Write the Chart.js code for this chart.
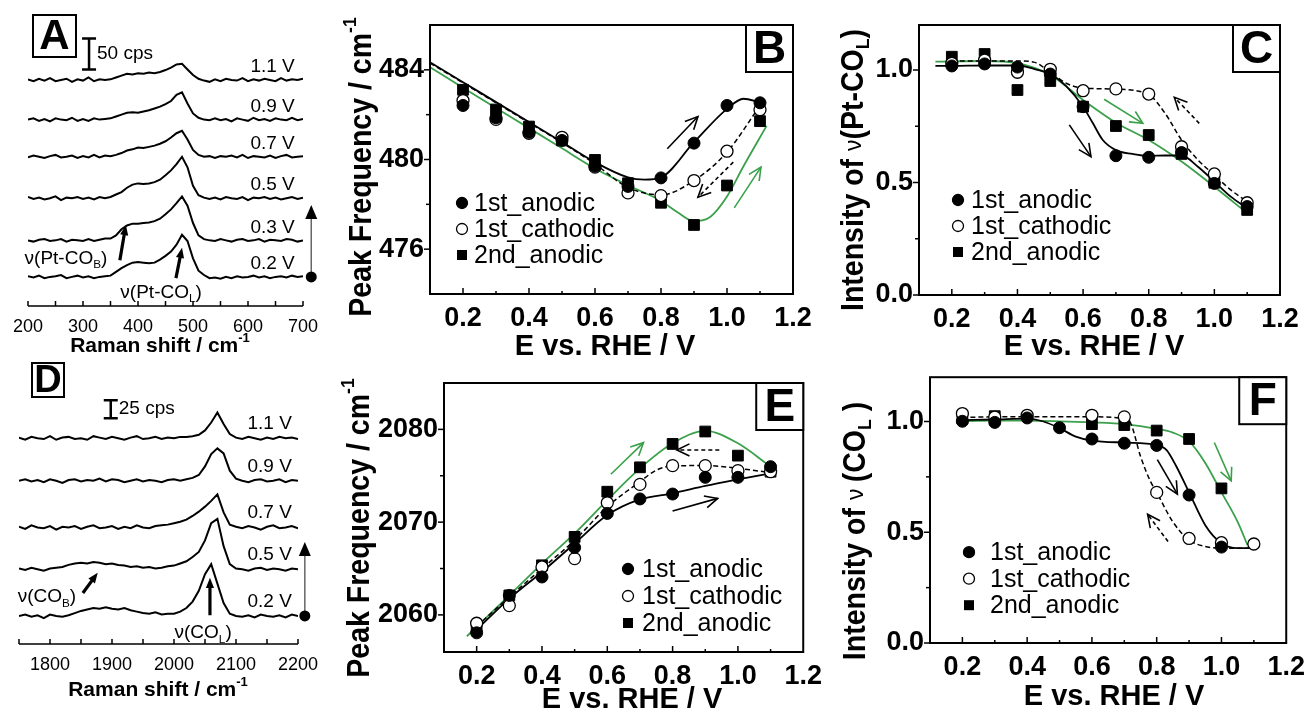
<!DOCTYPE html>
<html>
<head>
<meta charset="utf-8">
<script src="https://cdn.jsdelivr.net/npm/chart.js@4.4.0/dist/chart.umd.min.js"></script>
<style>
  body { margin: 0; background: #fff; width: 1313px; height: 711px; position: relative; overflow: hidden; }
  canvas { position: absolute; }
</style>
</head>
<body>
<canvas id="panelA" width="330" height="360" style="left:0;top:0"></canvas>
<canvas id="panelD" width="330" height="356" style="left:0;top:355px"></canvas>
<canvas id="panelB" width="490" height="360" style="left:330px;top:0"></canvas>
<canvas id="panelE" width="500" height="356" style="left:330px;top:355px"></canvas>
<canvas id="panelC" width="493" height="360" style="left:820px;top:0"></canvas>
<canvas id="panelF" width="493" height="356" style="left:820px;top:355px"></canvas>
<script>
// ---------- Panel A: Raman spectra, Pt-CO region (cps above each baseline) ----------
const shiftA = [200,210,220,230,240,250,260,270,280,290,300,310,320,330,340,350,360,370,380,390,
                400,410,420,430,440,450,460,470,480,490,500,510,520,530,540,550,560,570,580,590,
                600,610,620,630,640,650,660,670,680,690,700];
const ramanA_11 = [1,-2,2,-1,3,-2,0,2,-3,1,-1,4,-2,1,0, 1,4,7,10,9,11,10,12,11,13,16,20,25,26,17,8,2,-1,-3, 1,-2,2,0,-1,3,-2,1,-1,2,0,-2,3,-1,1,0,2];
const ramanA_09 = [0,2,-2,1,-3,2,0,-1,3,-2,1,-2,2,0,1, 2,5,8,11,12,11,13,15,18,21,25,30,40,44,26,10,3,0,-1, 2,-1,1,-3,2,0,-2,3,-1,1,-2,2,0,-1,3,-1,1];
const ramanA_07 = [-1,2,0,-2,1,3,-1,0,2,-2,1,-1,3,-1,2, 1,3,6,10,12,15,14,16,18,21,25,31,38,42,28,11,3,0,1, -2,1,0,2,-1,3,-2,1,0,-1,2,-2,1,3,-1,0,1];
const ramanA_05 = [2,-1,1,-2,0,3,-3,1,0,2,-1,1,-2,2,0, 2,6,10,17,22,24,23,24,26,30,37,45,55,67,50,20,5,1,-1, 1,-2,2,0,-1,2,-3,1,0,2,-1,1,-2,0,2,-1,1];
const ramanA_03 = [0,-2,1,2,-1,0,2,-2,1,0,-1,2,-1,1,3, 3,8,18,24,27,27,28,29,31,35,42,50,60,71,56,28,8,2,0, -1,2,0,-2,1,2,-1,0,2,-2,1,0,-1,2,1,-2,0];
const ramanA_02 = [1,-1,2,-2,0,1,3,-2,0,2,-1,1,-2,0,1, 2,8,14,19,23,24,23,22,23,28,34,41,52,68,58,30,10,3,-2, -1,-3,0,-2,1,-1,0,2,-1,1,-2,0,1,-1,2,0,1];
const offsetsA = [365, 301, 241, 174, 106, 47];
const potentialLabelsA = ['1.1 V', '0.9 V', '0.7 V', '0.5 V', '0.3 V', '0.2 V'];
const tickLabelsA = [200, 300, 400, 500, 600, 700];

// ---------- Panel D: Raman spectra, CO stretch region ----------
const shiftD = [1750,1760,1770,1780,1790,1800,1810,1820,1830,1840,1850,1860,1870,1880,1890,1900,
                1910,1920,1930,1940,1950,1960,1970,1980,1990,2000,2010,2020,2030,2040,2050,2060,
                2070,2080,2090,2100,2110,2120,2130,2140,2150,2160,2170,2180,2190,2200];
const ramanD_11 = [1,-2,2,0,-1,3,-2,1,2,-1,0,-2,3,1,-1,2,0,-2,1,3,-1,0,2,-1,1,0,2, 2,3,5,11,22,36,20,6,1, -1,2,0,-2,1,-1,2,0,1,-1];
const ramanD_09 = [0,2,-1,1,-2,2,0,-3,1,2,-1,1,0,3,-1,2,1,-2,0,2,-1,1,0,-2,1,2,0, 2,4,8,20,37,45,38,14,3, 0,-2,1,2,-1,0,2,-2,1,0];
const ramanD_07 = [1,-2,3,0,-1,2,-3,1,0,2,-2,1,3,-1,0,2,-2,1,-1,3,0,-1,2,3,4,6,8, 11,16,22,29,37,46,21,4,1, -1,2,0,-3,1,3,-1,0,2,-1];
const ramanD_05 = [1,-1,2,0,-2,1,2,3,6,8,9,8,10,9,7,8,6,5,3,4,2,3,1,2,4,5,8, 11,17,24,40,64,70,32,7,1, 0,-2,1,2,-1,1,0,-2,1,0];
const ramanD_02 = [0,2,-1,1,-3,2,0,-1,1,4,7,9,11,10,12,10,9,11,8,6,4,3,5,2,3,3,6, 11,20,35,58,72,45,18,3,0, -1,1,-2,2,0,-1,1,-2,2,0];
const offsetsD = [286, 227, 162, 104, 39];
const potentialLabelsD = ['1.1 V', '0.9 V', '0.7 V', '0.5 V', '0.2 V'];
const tickLabelsD = [1800, 1900, 2000, 2100, 2200];

// ---------- Panels B, C, E, F: peak parameters vs potential ----------
const potentials = [0.2, 0.3, 0.4, 0.5, 0.6, 0.7, 0.8, 0.9, 1.0, 1.1];
const potentialTicks = [0.2, 0.4, 0.6, 0.8, 1.0, 1.2];

const freqPtCO_anodic1   = [482.41, 481.86, 481.22, 480.85, 479.70, 478.80, 479.18, 480.73, 482.41, 482.53];
const freqPtCO_cathodic1 = [482.63, 481.79, 481.17, 480.99, 479.66, 478.51, 478.39, 479.06, 480.37, 482.22];
const freqPtCO_anodic2   = [483.11, 482.23, 481.47, 480.85, 479.98, 478.94, 478.07, 477.08, 478.84, 481.71];
const fitB_solid_x = [0.1, 0.2, 0.3, 0.4, 0.5, 0.6, 0.7, 0.75, 0.8, 0.9, 1.0, 1.05, 1.1];
const fitB_solid_y = [484.34, 483.45, 482.56, 481.67, 480.78, 479.88, 479.2, 479.1, 479.2, 480.77, 482.26, 482.71, 482.55];
const fitB_dash_x = [0.1, 0.2, 0.3, 0.4, 0.5, 0.6, 0.7, 0.8, 0.9, 1.0, 1.1];
const fitB_dash_y = [484.3, 483.42, 482.53, 481.64, 480.75, 479.8, 478.75, 478.42, 479.06, 480.33, 482.4];
const fitB_green_x = [0.1, 0.2, 0.3, 0.4, 0.5, 0.6, 0.7, 0.8, 0.85, 0.9, 0.95, 1.0, 1.05, 1.12];
const fitB_green_y = [484.12, 483.2, 482.3, 481.4, 480.5, 479.6, 478.85, 478.15, 477.65, 477.25, 477.45, 478.35, 479.7, 481.5];

const intPtCO_anodic1   = [1.018, 1.027, 1.013, 0.982, 0.837, 0.619, 0.612, 0.633, 0.496, 0.393];
const intPtCO_cathodic1 = [1.03, 1.044, 0.99, 1.003, 0.908, 0.916, 0.893, 0.659, 0.538, 0.41];
const intPtCO_anodic2   = [1.059, 1.071, 0.911, 0.951, 0.837, 0.751, 0.711, 0.627, 0.499, 0.378];
const fitC_solid_x = [0.15, 0.2, 0.3, 0.4, 0.45, 0.5, 0.55, 0.6, 0.63, 0.66, 0.7, 0.75, 0.8, 0.85, 0.9, 0.95, 1.0, 1.05, 1.1];
const fitC_solid_y = [1.018, 1.018, 1.02, 1.02, 1.005, 0.982, 0.926, 0.837, 0.763, 0.689, 0.644, 0.627, 0.618, 0.62, 0.62, 0.57, 0.504, 0.437, 0.385];
const fitC_dash_x = [0.2, 0.3, 0.4, 0.45, 0.5, 0.55, 0.6, 0.7, 0.8, 0.85, 0.9, 0.95, 1.0, 1.05, 1.1];
const fitC_dash_y = [1.04, 1.04, 1.04, 1.035, 0.99, 0.94, 0.92, 0.915, 0.89, 0.807, 0.689, 0.6, 0.533, 0.467, 0.415];
const fitC_green_x = [0.15, 0.3, 0.4, 0.5, 0.6, 0.7, 0.8, 0.9, 1.0, 1.1];
const fitC_green_y = [1.037, 1.04, 1.03, 0.978, 0.867, 0.766, 0.689, 0.593, 0.481, 0.363];

const freqCO_anodic1   = [2058.07, 2062.1, 2064.09, 2067.26, 2070.94, 2072.5, 2073.03, 2074.83, 2074.83, 2075.98];
const freqCO_cathodic1 = [2059.1, 2061.0, 2065.17, 2066.07, 2072.09, 2074.07, 2076.09, 2076.09, 2075.55, 2075.44];
const freqCO_anodic2   = [2058.7, 2062.1, 2065.35, 2068.41, 2073.28, 2075.91, 2078.43, 2079.77, 2077.17, 2075.44];
const fitE_solid_x = [0.2, 0.3, 0.4, 0.5, 0.6, 0.7, 0.8, 0.9, 1.0, 1.1];
const fitE_solid_y = [2058.4, 2061.75, 2064.63, 2067.7, 2070.76, 2072.45, 2073.1, 2073.9, 2074.6, 2075.26];
const fitE_dash_x = [0.2, 0.3, 0.4, 0.5, 0.6, 0.7, 0.75, 0.8, 0.9, 1.0, 1.1];
const fitE_dash_y = [2058.76, 2061.93, 2065.0, 2068.05, 2071.66, 2074.36, 2075.6, 2076.05, 2076.1, 2075.8, 2075.33];
const fitE_green_x = [0.17, 0.3, 0.4, 0.5, 0.6, 0.7, 0.8, 0.9, 1.0, 1.1, 1.12];
const fitE_green_y = [2057.7, 2062.1, 2065.53, 2068.78, 2072.38, 2075.8, 2078.5, 2079.84, 2078.5, 2075.98, 2075.5];

const intCO_anodic1   = [1.001, 0.996, 1.016, 0.972, 0.921, 0.902, 0.892, 0.668, 0.433, null];
const intCO_cathodic1 = [1.036, 1.02, 1.028, null, 1.028, 1.021, 0.68, 0.472, 0.453, 0.447];
const intCO_anodic2   = [1.013, 1.024, null, null, 0.988, 0.984, 0.959, 0.921, 0.698, null];
const fitF_solid_x = [0.2, 0.3, 0.4, 0.45, 0.5, 0.55, 0.6, 0.7, 0.8, 0.83, 0.86, 0.9, 0.95, 1.0, 1.05, 1.1];
const fitF_solid_y = [1.006, 1.009, 1.013, 1.0, 0.97, 0.932, 0.914, 0.905, 0.895, 0.872, 0.799, 0.68, 0.532, 0.45, 0.428, 0.428];
const fitF_dash_x = [0.2, 0.3, 0.4, 0.5, 0.6, 0.7, 0.72, 0.75, 0.78, 0.8, 0.85, 0.9, 0.95, 1.0, 1.1];
const fitF_dash_y = [1.018, 1.021, 1.021, 1.021, 1.021, 1.013, 0.991, 0.843, 0.732, 0.68, 0.547, 0.465, 0.436, 0.428, 0.428];
const fitF_green_x = [0.18, 0.3, 0.4, 0.5, 0.6, 0.7, 0.8, 0.85, 0.9, 0.95, 1.0, 1.05, 1.08];
const fitF_green_y = [1.001, 1.004, 1.004, 1.001, 0.996, 0.988, 0.967, 0.95, 0.91, 0.813, 0.68, 0.547, 0.443];

const seriesNames = ['1st_anodic', '1st_cathodic', '2nd_anodic'];

// ---------- shared drawing helpers ----------
const SANS = '"Liberation Sans", Arial, Helvetica, sans-serif';
const GREEN = '#3aa14a';

// draws text made of parts (bold / sub / sup) centred on cx, cy;
// squeeze < 1 narrows the text along its reading direction
function drawRich(ctx, parts, cx, cy, size, rotated, squeeze) {
  ctx.save();
  ctx.translate(cx, cy);
  if (rotated) ctx.rotate(-Math.PI / 2);
  if (squeeze) ctx.scale(squeeze, 1);
  const fontOf = p => {
    const s = size * (p.sub || p.sup ? 0.62 : (p.scale || 1));
    return (p.w || 'normal') + ' ' + s + 'px ' + SANS;
  };
  let total = 0;
  parts.forEach(p => { ctx.font = fontOf(p); total += ctx.measureText(p.t).width; });
  let x = -total / 2;
  ctx.textAlign = 'left';
  ctx.textBaseline = 'middle';
  ctx.fillStyle = '#000';
  parts.forEach(p => {
    ctx.font = fontOf(p);
    const dy = p.sub ? size * 0.32 : p.sup ? -size * 0.36 : 0;
    ctx.fillText(p.t, x, dy);
    x += ctx.measureText(p.t).width;
  });
  ctx.restore();
}

function openArrow(ctx, x1, y1, x2, y2, color, dashed) {
  ctx.save();
  ctx.strokeStyle = color;
  ctx.lineWidth = 1.6;
  if (dashed) ctx.setLineDash([4, 3]);
  ctx.beginPath(); ctx.moveTo(x1, y1); ctx.lineTo(x2, y2); ctx.stroke();
  ctx.setLineDash([]);
  const ang = Math.atan2(y2 - y1, x2 - x1), L = 14, s = 0.45;
  ctx.beginPath();
  ctx.moveTo(x2 - L * Math.cos(ang - s), y2 - L * Math.sin(ang - s));
  ctx.lineTo(x2, y2);
  ctx.lineTo(x2 - L * Math.cos(ang + s), y2 - L * Math.sin(ang + s));
  ctx.stroke();
  ctx.restore();
}

function solidArrow(ctx, x1, y1, x2, y2, width, head, color) {
  const ang = Math.atan2(y2 - y1, x2 - x1);
  ctx.save();
  ctx.strokeStyle = color; ctx.fillStyle = color; ctx.lineWidth = width;
  ctx.beginPath(); ctx.moveTo(x1, y1);
  ctx.lineTo(x2 - head * 0.8 * Math.cos(ang), y2 - head * 0.8 * Math.sin(ang)); ctx.stroke();
  ctx.beginPath();
  ctx.moveTo(x2, y2);
  ctx.lineTo(x2 - head * Math.cos(ang - 0.38), y2 - head * Math.sin(ang - 0.38));
  ctx.lineTo(x2 - head * Math.cos(ang + 0.38), y2 - head * Math.sin(ang + 0.38));
  ctx.closePath(); ctx.fill();
  ctx.restore();
}

function drawMarker(ctx, kind, x, y, r) {
  ctx.beginPath();
  if (kind === 'square') {
    ctx.rect(x - r, y - r, 2 * r, 2 * r);
    ctx.fillStyle = '#000'; ctx.fill();
  } else {
    ctx.arc(x, y, r, 0, 2 * Math.PI);
    ctx.fillStyle = kind === 'open' ? '#fff' : '#000';
    ctx.fill();
    ctx.lineWidth = 1.3; ctx.strokeStyle = '#000'; ctx.stroke();
  }
}

function letterBox(ctx, letter, x, y, w, h, size) {
  ctx.save();
  ctx.fillStyle = '#fff'; ctx.fillRect(x, y, w, h);
  ctx.strokeStyle = '#000'; ctx.lineWidth = 2; ctx.strokeRect(x, y, w, h);
  ctx.fillStyle = '#000'; ctx.font = 'bold ' + size + 'px ' + SANS;
  ctx.textAlign = 'center'; ctx.textBaseline = 'middle';
  ctx.fillText(letter, x + w / 2, y + h / 2 + size * 0.04);
  ctx.restore();
}

const titleRaman = [{ t: 'Raman shift / cm', w: 'bold' }, { t: '-1', w: 'bold', sup: true }];
const titleE = [{ t: 'E vs. RHE / V', w: 'bold' }];
const titlePeak = [{ t: 'Peak Frequency / cm', w: 'bold' }, { t: '-1', w: 'bold', sup: true }];
const titleIntPtCO = [{ t: 'Intensity of ', w: 'bold' }, { t: 'ν', scale: 0.8 }, { t: '(Pt-CO', w: 'bold' }, { t: 'L', w: 'bold', sub: true }, { t: ')', w: 'bold' }];
const titleIntCO = [{ t: 'Intensity of ', w: 'bold' }, { t: 'ν ', scale: 0.8 }, { t: '(CO', w: 'bold' }, { t: 'L', w: 'bold', sub: true }, { t: ' )', w: 'bold' }];

// ---------- spectra panels (A, D) ----------
function spectraChart(id, cfg) {
  const decor = {
    id: 'spectraDecor',
    afterDraw(chart) {
      const ctx = chart.ctx, a = chart.chartArea;
      const px = v => chart.scales.x.getPixelForValue(v);
      const py = v => chart.scales.y.getPixelForValue(v);
      ctx.save();
      // axis line with inward ticks
      ctx.strokeStyle = '#000'; ctx.lineWidth = 1.5;
      ctx.beginPath(); ctx.moveTo(a.left, a.bottom); ctx.lineTo(a.right, a.bottom); ctx.stroke();
      cfg.tickMarks.forEach(v => {
        ctx.beginPath(); ctx.moveTo(px(v), a.bottom); ctx.lineTo(px(v), a.bottom - 5); ctx.stroke();
      });
      // scale bar
      const bx = px(cfg.bar.x), b0 = py(cfg.bar.y0), b1 = py(cfg.bar.y0 + cfg.bar.len);
      ctx.lineWidth = 2.5;
      ctx.beginPath();
      ctx.moveTo(bx, b0); ctx.lineTo(bx, b1);
      ctx.moveTo(bx - 7, b0); ctx.lineTo(bx + 7, b0);
      ctx.moveTo(bx - 7, b1); ctx.lineTo(bx + 7, b1);
      ctx.stroke();
      ctx.fillStyle = '#000';
      ctx.font = '19px ' + SANS; ctx.textBaseline = 'middle'; ctx.textAlign = 'left';
      ctx.fillText(cfg.bar.label, bx + 8, (b0 + b1) / 2);
      // potential labels
      ctx.textAlign = 'right';
      cfg.labels.forEach((t, k) => ctx.fillText(t, px(cfg.labelX), py(cfg.offsets[k] + cfg.labelLift)));
      // band assignments
      cfg.notes.forEach(n => {
        drawRich(ctx, n.text, px(n.at[0]), py(n.at[1]), 19, false);
        solidArrow(ctx, px(n.from[0]), py(n.from[1]), px(n.to[0]), py(n.to[1]), 3.2, 11, '#000');
      });
      // potential step arrow
      const vx = px(cfg.vArrow.x), v0 = py(cfg.vArrow.y0), v1 = py(cfg.vArrow.y1);
      ctx.strokeStyle = '#666'; ctx.lineWidth = 1.5;
      ctx.beginPath(); ctx.moveTo(vx, v0); ctx.lineTo(vx, v1 + 10); ctx.stroke();
      ctx.fillStyle = '#000';
      ctx.beginPath(); ctx.moveTo(vx, v1); ctx.lineTo(vx - 6, v1 + 14); ctx.lineTo(vx + 6, v1 + 14); ctx.closePath(); ctx.fill();
      ctx.beginPath(); ctx.arc(vx, v0, 5.5, 0, 2 * Math.PI); ctx.fill();
      ctx.restore();
      letterBox(ctx, cfg.letter, cfg.box[0], cfg.box[1], cfg.box[2], cfg.box[3], cfg.box[4]);
      drawRich(ctx, titleRaman, cfg.titlePos[0], cfg.titlePos[1], 21, false);
    }
  };
  return new Chart(document.getElementById(id), {
    type: 'line',
    data: {
      datasets: cfg.spectra.map((s, k) => ({
        data: cfg.shift.map((x, i) => ({ x: x, y: s[i] + cfg.offsets[k] })),
        borderColor: '#000', borderWidth: 2, pointRadius: 0, tension: 0
      }))
    },
    options: {
      responsive: false, animation: false, devicePixelRatio: 1, events: [],
      layout: { padding: cfg.padding },
      plugins: { legend: { display: false }, tooltip: { enabled: false } },
      scales: {
        x: {
          type: 'linear', min: cfg.xmin, max: cfg.xmax,
          grid: { display: false, drawTicks: false }, border: { display: false },
          afterBuildTicks: s => { s.ticks = cfg.tickLabels.map(v => ({ value: v })); },
          afterFit: s => { s.height = cfg.xHeight; },
          ticks: { color: '#000', font: { family: SANS, size: 18 }, padding: 10, maxRotation: 0, autoSkip: false,
                   callback: v => String(v) }
        },
        y: { display: false, min: 0, max: cfg.ymax }
      }
    },
    plugins: [decor]
  });
}

spectraChart('panelA', {
  shift: shiftA, spectra: [ramanA_11, ramanA_09, ramanA_07, ramanA_05, ramanA_03, ramanA_02],
  offsets: offsetsA, labels: potentialLabelsA, tickLabels: tickLabelsA,
  tickMarks: [200, 250, 300, 350, 400, 450, 500, 550, 600, 650, 700],
  xmin: 200, xmax: 700, ymax: 478, xHeight: 54,
  padding: { left: 28, right: 27, top: 10, bottom: 0 },
  labelX: 685, labelLift: 21,
  bar: { x: 311, y0: 382, len: 50, label: '50 cps' },
  notes: [
    { text: [{ t: 'ν(Pt-CO' }, { t: 'B', sub: true }, { t: ')' }], at: [269, 76], from: [367, 74], to: [378, 131] },
    { text: [{ t: 'ν(Pt-CO' }, { t: 'L', sub: true }, { t: ')' }], at: [442, 21], from: [469, 45], to: [480, 94] }
  ],
  vArrow: { x: 715, y0: 47, y1: 163 },
  letter: 'A', box: [33, 15, 43, 42, 42],
  titlePos: [160, 346]
});

spectraChart('panelD', {
  shift: shiftD, spectra: [ramanD_11, ramanD_09, ramanD_07, ramanD_05, ramanD_02],
  offsets: offsetsD, labels: potentialLabelsD, tickLabels: tickLabelsD,
  tickMarks: [1750, 1800, 1850, 1900, 1950, 2000, 2050, 2100, 2150, 2200],
  xmin: 1750, xmax: 2200, ymax: 381, xHeight: 67,
  padding: { left: 19, right: 32, top: 15, bottom: 0 },
  labelX: 2190, labelLift: 20,
  bar: { x: 1898, y0: 314, len: 25, label: '25 cps' },
  notes: [
    { text: [{ t: 'ν(CO' }, { t: 'B', sub: true }, { t: ')' }], at: [1795, 65], from: [1853, 71], to: [1877, 99] },
    { text: [{ t: 'ν(CO' }, { t: 'L', sub: true }, { t: ')' }], at: [2047, 15], from: [2058, 40], to: [2058, 92] }
  ],
  vArrow: { x: 2211, y0: 39, y1: 142 },
  letter: 'D', box: [32, 8, 32, 34, 38],
  titlePos: [158, 335]
});

// ---------- framed panels (B, C, E, F) ----------
function pts(xs, ys) {
  return xs.map((x, i) => ({ x: x, y: ys[i] })).filter(p => p.y !== null);
}

function frameChart(id, cfg) {
  const decor = {
    id: 'frameDecor',
    afterDraw(chart) {
      const ctx = chart.ctx, a = chart.chartArea;
      const px = v => chart.scales.x.getPixelForValue(v);
      const py = v => chart.scales.y.getPixelForValue(v);
      ctx.save();
      ctx.strokeStyle = '#000'; ctx.lineWidth = 2;
      ctx.strokeRect(a.left, a.top, a.right - a.left, a.bottom - a.top);
      ctx.lineWidth = 1.5;
      [0.2, 0.3, 0.4, 0.5, 0.6, 0.7, 0.8, 0.9, 1.0, 1.1].forEach((v, i) => {
        const len = i % 2 === 0 ? 6 : 3;
        ctx.beginPath(); ctx.moveTo(px(v), a.bottom); ctx.lineTo(px(v), a.bottom - len); ctx.stroke();
      });
      cfg.yTicks.forEach(v => {
        const len = cfg.yLabels.includes(v) ? 6 : 4;
        ctx.beginPath(); ctx.moveTo(a.left, py(v)); ctx.lineTo(a.left - len, py(v)); ctx.stroke();
      });
      cfg.arrows.forEach(r => {
        openArrow(ctx, px(r.from[0]), py(r.from[1]), px(r.to[0]), py(r.to[1]), r.green ? GREEN : '#000', r.dashed);
      });
      // legend
      const kinds = ['filled', 'open', 'square'];
      ctx.font = '25px ' + SANS; ctx.textAlign = 'left'; ctx.textBaseline = 'middle';
      seriesNames.forEach((name, k) => {
        const lx = a.left + cfg.legend.x, ly = a.top + cfg.legend.y + k * cfg.legend.dy;
        drawMarker(ctx, kinds[k], lx, ly, kinds[k] === 'square' ? 5 : 5.5);
        ctx.fillStyle = '#000';
        ctx.fillText(name, lx + cfg.legend.gap, ly + 1);
      });
      ctx.restore();
      letterBox(ctx, cfg.letter, a.right - 47, a.top, 47, 47, 46);
      drawRich(ctx, titleE, cfg.xTitlePos[0], cfg.xTitlePos[1], 29, false);
      drawRich(ctx, cfg.yTitle, cfg.yTitlePos[0], cfg.yTitlePos[1], 31, true, 0.92);
    }
  };
  const tickFont = { family: SANS, size: 27, weight: 'bold' };
  return new Chart(document.getElementById(id), {
    type: 'scatter',
    data: {
      datasets: [
        { data: pts(potentials, cfg.series[0]), pointStyle: 'circle', pointRadius: 6, pointBackgroundColor: '#000', pointBorderColor: '#000', pointBorderWidth: 1 },
        { data: pts(potentials, cfg.series[1]), pointStyle: 'circle', pointRadius: 6, pointBackgroundColor: '#fff', pointBorderColor: '#000', pointBorderWidth: 1.3 },
        { data: pts(potentials, cfg.series[2]), pointStyle: 'rect', pointRadius: 7.6, pointBackgroundColor: '#000', pointBorderColor: '#000', pointBorderWidth: 1 },
        { data: pts(cfg.fits[0][0], cfg.fits[0][1]), showLine: true, pointRadius: 0, borderColor: '#000', borderWidth: 1.8, cubicInterpolationMode: 'monotone' },
        { data: pts(cfg.fits[1][0], cfg.fits[1][1]), showLine: true, pointRadius: 0, borderColor: '#000', borderWidth: 1.5, borderDash: [5, 3], cubicInterpolationMode: 'monotone' },
        { data: pts(cfg.fits[2][0], cfg.fits[2][1]), showLine: true, pointRadius: 0, borderColor: GREEN, borderWidth: 1.8, cubicInterpolationMode: 'monotone' }
      ]
    },
    options: {
      responsive: false, animation: false, devicePixelRatio: 1, events: [],
      layout: { padding: { left: 0, right: cfg.padRight, top: cfg.padTop, bottom: 0 } },
      plugins: { legend: { display: false }, tooltip: { enabled: false } },
      scales: {
        x: {
          type: 'linear', min: 0.1, max: 1.2,
          grid: { display: false, drawTicks: false }, border: { display: false },
          afterBuildTicks: s => { s.ticks = potentialTicks.map(v => ({ value: v })); },
          afterFit: s => { s.height = cfg.xHeight; },
          ticks: { color: '#000', font: tickFont, padding: 8, maxRotation: 0, autoSkip: false, callback: v => v.toFixed(1) }
        },
        y: {
          type: 'linear', min: cfg.ymin, max: cfg.ymax,
          grid: { display: false, drawTicks: false }, border: { display: false },
          afterBuildTicks: s => { s.ticks = cfg.yTicks.map(v => ({ value: v })); },
          afterFit: s => { s.width = cfg.yWidth; },
          ticks: { color: '#000', font: tickFont, padding: 6, autoSkip: false,
                   callback: v => cfg.yLabels.includes(v) ? v.toFixed(cfg.yDigits) : '' }
        }
      }
    },
    plugins: [decor]
  });
}

frameChart('panelB', {
  series: [freqPtCO_anodic1, freqPtCO_cathodic1, freqPtCO_anodic2],
  fits: [[fitB_solid_x, fitB_solid_y], [fitB_dash_x, fitB_dash_y], [fitB_green_x, fitB_green_y]],
  ymin: 474, ymax: 486, yTicks: [476, 478, 480, 482, 484], yLabels: [476, 480, 484], yDigits: 0,
  yWidth: 100, xHeight: 66, padTop: 25, padRight: 27,
  arrows: [
    { from: [0.819, 480.48], to: [0.912, 481.92] },
    { from: [1.019, 479.88], to: [0.912, 478.32], dashed: true },
    { from: [1.022, 477.84], to: [1.103, 479.66], green: true }
  ],
  legend: { x: 32, y: 178, dy: 26, gap: 12 },
  letter: 'B', yTitle: titlePeak, yTitlePos: [32, 167], xTitlePos: [275, 347]
});

frameChart('panelC', {
  series: [intPtCO_anodic1, intPtCO_cathodic1, intPtCO_anodic2],
  fits: [[fitC_solid_x, fitC_solid_y], [fitC_dash_x, fitC_dash_y], [fitC_green_x, fitC_green_y]],
  ymin: 0, ymax: 1.2, yTicks: [0, 0.25, 0.5, 0.75, 1.0], yLabels: [0, 0.5, 1.0], yDigits: 1,
  yWidth: 99, xHeight: 65, padTop: 25, padRight: 33,
  arrows: [
    { from: [0.558, 0.756], to: [0.624, 0.615] },
    { from: [0.664, 0.870], to: [0.782, 0.763], green: true },
    { from: [0.954, 0.763], to: [0.878, 0.879], dashed: true }
  ],
  legend: { x: 39, y: 175, dy: 26, gap: 13 },
  letter: 'C', yTitle: titleIntPtCO, yTitlePos: [34, 170], xTitlePos: [274, 347]
});

frameChart('panelE', {
  series: [freqCO_anodic1, freqCO_cathodic1, freqCO_anodic2],
  fits: [[fitE_solid_x, fitE_solid_y], [fitE_dash_x, fitE_dash_y], [fitE_green_x, fitE_green_y]],
  ymin: 2056, ymax: 2085, yTicks: [2060, 2065, 2070, 2075, 2080], yLabels: [2060, 2070, 2080], yDigits: 0,
  yWidth: 114, xHeight: 59, padTop: 28, padRight: 25,
  arrows: [
    { from: [0.611, 2075.16], to: [0.711, 2078.57], green: true },
    { from: [0.943, 2077.78], to: [0.813, 2077.78], dashed: true },
    { from: [0.8, 2071.19], to: [0.938, 2072.56] }
  ],
  legend: { x: 184, y: 186, dy: 27, gap: 14 },
  letter: 'E', yTitle: titlePeak, yTitlePos: [30, 173], xTitlePos: [302, 345]
});

frameChart('panelF', {
  series: [intCO_anodic1, intCO_cathodic1, intCO_anodic2],
  fits: [[fitF_solid_x, fitF_solid_y], [fitF_dash_x, fitF_dash_y], [fitF_green_x, fitF_green_y]],
  ymin: 0, ymax: 1.2, yTicks: [0, 0.25, 0.5, 0.75, 1.0], yLabels: [0, 0.5, 1.0], yDigits: 1,
  yWidth: 110, xHeight: 68, padTop: 19, padRight: 22,
  arrows: [
    { from: [0.802, 0.828], to: [0.864, 0.672] },
    { from: [0.978, 0.905], to: [1.030, 0.732], green: true },
    { from: [0.835, 0.458], to: [0.772, 0.581], dashed: true }
  ],
  legend: { x: 39, y: 175, dy: 26.5, gap: 21 },
  letter: 'F', yTitle: titleIntCO, yTitlePos: [36, 176], xTitlePos: [294, 342]
});
</script>
</body>
</html>
